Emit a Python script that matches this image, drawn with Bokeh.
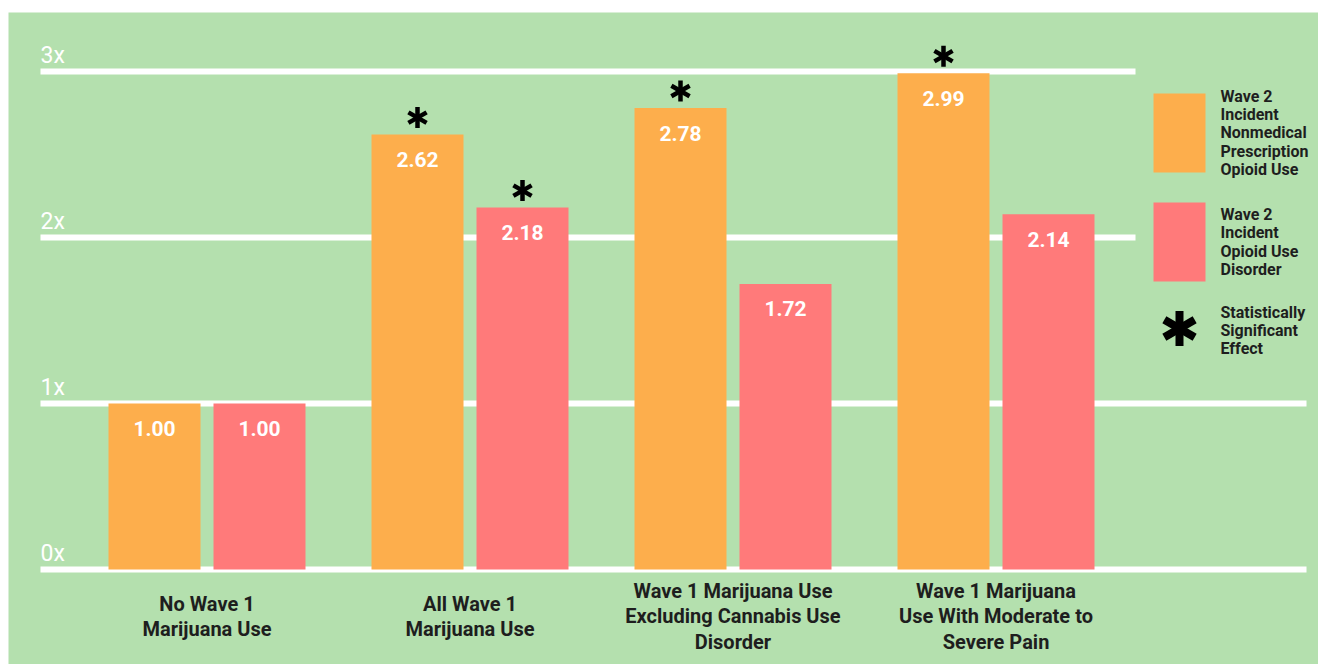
import math
from bokeh.plotting import figure
from bokeh.models import Range1d
from bokeh.core.properties import value
from bokeh.embed import file_html
from bokeh.resources import INLINE

# ---------------- data ----------------
categories = [
    "No Wave 1\nMarijuana Use",
    "All Wave 1\nMarijuana Use",
    "Wave 1 Marijuana Use\nExcluding Cannabis Use\nDisorder",
    "Wave 1 Marijuana\nUse With Moderate to\nSevere Pain",
]
nonmedical_opioid_use = [1.00, 2.62, 2.78, 2.99]
opioid_use_disorder = [1.00, 2.18, 1.72, 2.14]
nonmedical_significant = [False, True, True, True]
disorder_significant = [False, True, False, False]
tick_values = [0, 1, 2, 3]
tick_labels = ["0x", "1x", "2x", "3x"]
series_names = [
    "Wave 2\nIncident\nNonmedical\nPrescription\nOpioid Use",
    "Wave 2\nIncident\nOpioid Use\nDisorder",
]
significance_label = "Statistically\nSignificant\nEffect"

# ---------------- style / layout ----------------
W, H = 1318, 664
FRAME_L, FRAME_T = 8, 12
PX_X, X0_PX = 263.0, 206.5      # px per category step, screen x of first group
PX_Y, Y0_PX = 166.0, 569.0      # px per unit, screen y of value 0
GREEN = "#b4e0ae"
ORANGE = "#fdae4c"
PINK = "#ff7a7a"
DARK = "#1e1e1e"
FONT = "Roboto"

def sx(px):
    return (px - X0_PX) / PX_X

def sy(py):
    return (Y0_PX - py) / PX_Y

BAR_W = 92 / PX_X
DODGE = 52.5 / PX_X

p = figure(width=W, height=H, output_backend="svg", toolbar_location=None,
           x_range=Range1d(sx(FRAME_L), sx(W)), y_range=Range1d(sy(H), sy(FRAME_T)),
           min_border_left=FRAME_L, min_border_top=FRAME_T,
           min_border_right=0, min_border_bottom=0)
p.axis.visible = False
p.grid.visible = False
p.outline_line_color = None
p.background_fill_color = GREEN
p.border_fill_color = "white"

# grid lines (behind bars); upper lines stop short of the legend
grid_end = [sx(1306) if t < 2 else sx(1135) for t in tick_values]
p.segment(x0=[sx(40)] * len(tick_values), x1=grid_end,
          y0=tick_values, y1=tick_values, line_color="white", line_width=6)
p.text(x=[sx(40)] * len(tick_values), y=tick_values, text=tick_labels,
       text_color="white", text_font=value(FONT), text_font_size="23px",
       text_baseline="bottom", text_align="left", y_offset=-3)

idx = list(range(len(categories)))
series = [(nonmedical_opioid_use, nonmedical_significant, ORANGE, -DODGE),
          (opioid_use_disorder, disorder_significant, PINK, DODGE)]
for vals, sig, color, off in series:
    xs = [i + off for i in idx]
    p.vbar(x=xs, top=vals, bottom=0, width=BAR_W, fill_color=color, line_color=None)
    p.text(x=xs, y=vals, text=[f"{v:.2f}" for v in vals], text_color="white",
           text_font=value(FONT), text_font_size="21px", text_font_style="bold",
           text_align="center", text_baseline="middle", y_offset=25)
    sxs = [x for x, s in zip(xs, sig) if s]
    sys_ = [v + 17 / PX_Y for v, s in zip(vals, sig) if s]
    for ang in (math.pi / 2, math.pi / 6, -math.pi / 6):
        p.scatter(x=sxs, y=sys_, marker="dash", size=21, angle=ang,
                  line_color="black", line_width=4.5)

# category labels
p.text(x=idx, y=[0] * len(idx), text=categories, text_color=DARK,
       text_font=value(FONT), text_font_size="20px", text_font_style="bold",
       text_align="center", text_baseline="middle", text_line_height=1.08,
       y_offset=47)

# legend (manual)
sw_x = sx(1179)
p.rect(x=[sw_x, sw_x], y=[sy(132.5), sy(241.5)], width=52 / PX_X, height=79 / PX_Y,
       fill_color=[ORANGE, PINK], line_color=None)
for ang in (math.pi / 2, math.pi / 6, -math.pi / 6):
    p.scatter(x=[sw_x], y=[sy(328)], marker="dash", size=35, angle=ang,
              line_color="black", line_width=8)
p.text(x=[sx(1220)] * 3, y=[sy(132.5), sy(241.5), sy(330)],
       text=series_names + [significance_label], text_color=DARK,
       text_font=value(FONT), text_font_size="16px", text_font_style="bold",
       text_align="left", text_baseline="middle", text_line_height=0.96)

open("out.html", "w").write(file_html(p, INLINE))
